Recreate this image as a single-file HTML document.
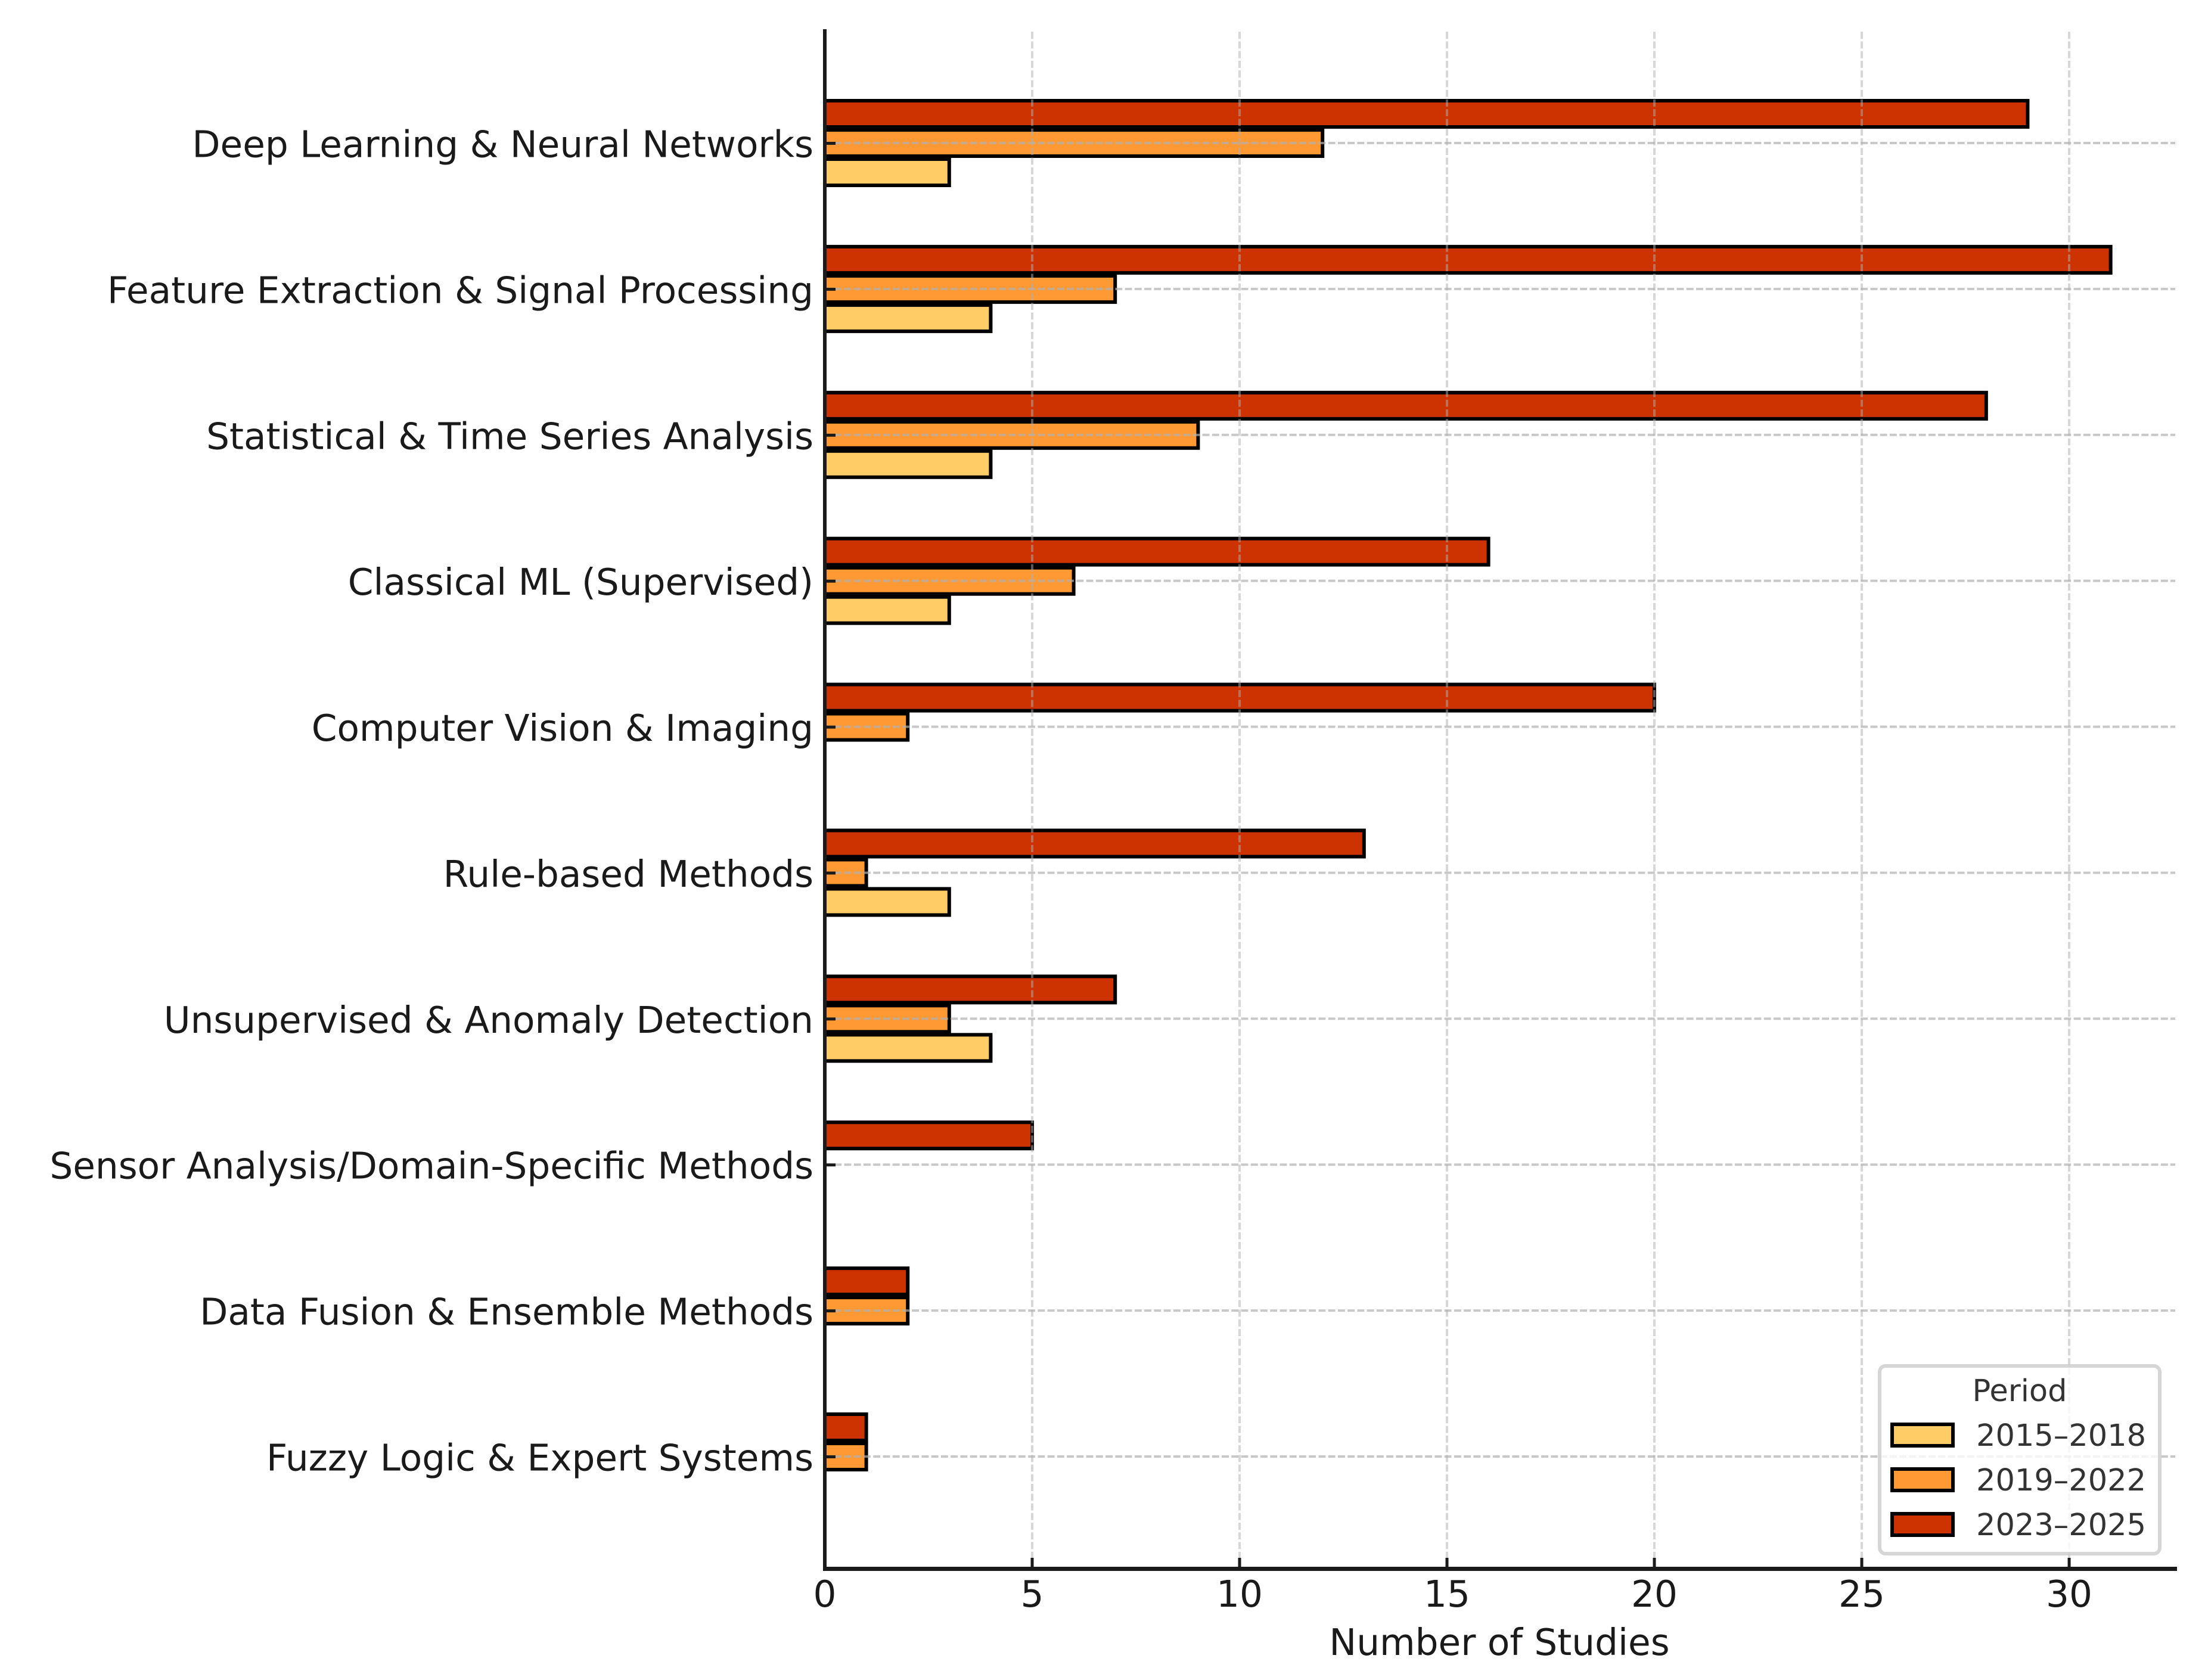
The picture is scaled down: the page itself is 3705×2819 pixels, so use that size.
<!DOCTYPE html>
<html lang="en">
<head>
<meta charset="utf-8">
<title>Number of Studies by Method and Period</title>
<style>
  html, body { margin: 0; padding: 0; background: #ffffff; }
  svg { display: block; }
  text { font-family: "DejaVu Sans", "Liberation Sans", sans-serif; }
</style>
</head>
<body>
<svg id="chart" xmlns="http://www.w3.org/2000/svg" width="3705" height="2819" viewBox="0 0 3705 2819">
  <rect x="0" y="0" width="3705" height="2819" fill="#ffffff"/>
  <g id="bars"></g>
  <g id="grid"></g>
  <g id="axes"></g>
  <text x="2516" y="2777" font-size="61.25" fill="#1a1a1a" text-anchor="middle">Number of Studies</text>
  <g>
    <rect x="3154" y="2292" width="470" height="315" rx="10" ry="10" fill="#ffffff" fill-opacity="0.8" stroke="#cccccc" stroke-opacity="0.8" stroke-width="6"/>
    <text x="3389" y="2351" font-size="51" fill="#333333" text-anchor="middle">Period</text>
    <g>
      <rect x="3175" y="2390" width="102" height="36" fill="#ffcc66" stroke="#000000" stroke-width="6"/>
      <text x="3316" y="2426" font-size="51" fill="#333333">2015–2018</text>
    </g>
    <g>
      <rect x="3175" y="2465" width="102" height="36" fill="#ff9933" stroke="#000000" stroke-width="6"/>
      <text x="3316" y="2501" font-size="51" fill="#333333">2019–2022</text>
    </g>
    <g>
      <rect x="3175" y="2540" width="102" height="36" fill="#cc3300" stroke="#000000" stroke-width="6"/>
      <text x="3316" y="2576" font-size="51" fill="#333333">2023–2025</text>
    </g>
  </g>
</svg>
<script>
const categories = [
  "Deep Learning & Neural Networks",
  "Feature Extraction & Signal Processing",
  "Statistical & Time Series Analysis",
  "Classical ML (Supervised)",
  "Computer Vision & Imaging",
  "Rule-based Methods",
  "Unsupervised & Anomaly Detection",
  "Sensor Analysis/Domain-Specific Methods",
  "Data Fusion & Ensemble Methods",
  "Fuzzy Logic & Expert Systems"
];
const series2015to2018 = [3, 4, 4, 3, 0, 3, 4, 0, 0, 0];
const series2019to2022 = [12, 7, 9, 6, 2, 1, 3, 0, 2, 1];
const series2023to2025 = [29, 31, 28, 16, 20, 13, 7, 5, 2, 1];
const xTickValues = [0, 5, 10, 15, 20, 25, 30];

const NS = "http://www.w3.org/2000/svg";
const plotLeft = 1384;
const plotRight = 3653;
const plotTop = 49;
const plotBottom = 2632.5;
const firstCategoryY = 240;
const lastCategoryY = 2444;
const unitsWide = 32.6;

function xScale(v) {
  return plotLeft + v * (plotRight - plotLeft) / unitsWide;
}
function yScale(i) {
  return firstCategoryY + i * (lastCategoryY - firstCategoryY) / (categories.length - 1);
}
function make(tag, attrs, parent) {
  const el = document.createElementNS(NS, tag);
  for (const k in attrs) el.setAttribute(k, attrs[k]);
  parent.appendChild(el);
  return el;
}

const barsLayer = document.getElementById("bars");
const gridLayer = document.getElementById("grid");
const axesLayer = document.getElementById("axes");

const barHeight = 44;
const barOffset = 49;

function drawSeries(values, color, offset, seriesName) {
  values.forEach(function (v, i) {
    const el = make("rect", {
      x: xScale(0),
      y: yScale(i) + offset - barHeight / 2,
      width: xScale(v) - xScale(0),
      height: barHeight,
      fill: color,
      stroke: "#000000",
      "stroke-width": 6
    }, barsLayer);
    
    
  });
}
drawSeries(series2015to2018, "#ffcc66", barOffset, "2015-2018");
drawSeries(series2019to2022, "#ff9933", 0, "2019-2022");
drawSeries(series2023to2025, "#cc3300", -barOffset, "2023-2025");

xTickValues.slice(1).forEach(function (t) {
  const el = make("line", {
    x1: xScale(t), x2: xScale(t), y1: 53.3, y2: plotBottom,
    stroke: "#b0b0b0", "stroke-opacity": 0.5, "stroke-width": 4,
    "stroke-dasharray": "11.9 4.345"
  }, gridLayer);
  
  
});
categories.forEach(function (c, i) {
  const el = make("line", {
    x1: plotLeft, x2: 3650, y1: yScale(i), y2: yScale(i),
    stroke: "#b0b0b0", "stroke-opacity": 0.7, "stroke-width": 4,
    "stroke-dasharray": "11.9 4.345"
  }, gridLayer);
  
  
});

const leftSpine = make("rect", { x: 1381, y: plotTop, width: 6, height: 2636 - plotTop, fill: "#1a1a1a" }, axesLayer);


const bottomSpine = make("rect", { x: 1381, y: 2629, width: plotRight - 1381, height: 7, fill: "#1a1a1a" }, axesLayer);



categories.forEach(function (c, i) {
  const tick = make("line", {
    x1: 1387, x2: 1402, y1: yScale(i) + 0.5, y2: yScale(i) + 0.5,
    stroke: "#1a1a1a", "stroke-width": 5
  }, axesLayer);
  
  
  const label = make("text", {
    x: 1365, y: yScale(i) + 23.5, "font-size": 61.25, fill: "#1a1a1a", "text-anchor": "end"
  }, axesLayer);
  label.textContent = c;
  
  
});

xTickValues.forEach(function (t) {
  if (t !== 0) {
    const tick = make("line", {
      x1: xScale(t), x2: xScale(t), y1: 2614, y2: 2630,
      stroke: "#1a1a1a", "stroke-width": 5
    }, axesLayer);
    
    
  }
  const label = make("text", {
    x: xScale(t), y: 2696, "font-size": 61.25, fill: "#1a1a1a", "text-anchor": "middle"
  }, axesLayer);
  label.textContent = String(t);
  
  
});
</script>
</body>
</html>
